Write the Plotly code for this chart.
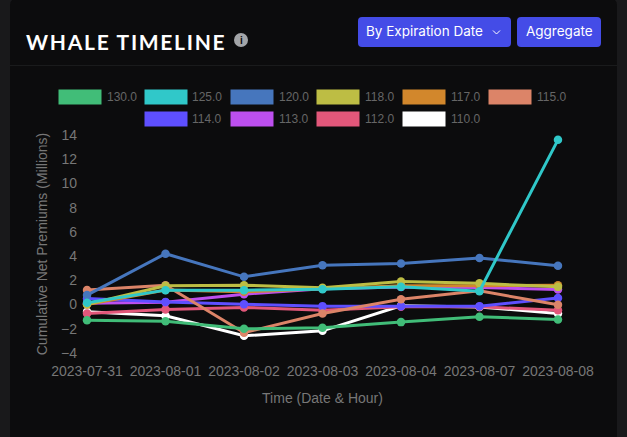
import plotly.graph_objects as go

W, H = 627, 437
dates = ["2023-07-31", "2023-08-01", "2023-08-02", "2023-08-03", "2023-08-04", "2023-08-07", "2023-08-08"]
strikes = ["130.0", "125.0", "120.0", "118.0", "117.0", "115.0", "114.0", "113.0", "112.0", "110.0"]
colors = ["#41bd78", "#30c8c9", "#4676bd", "#bdbd44", "#d2872c", "#dc8468", "#5e4fff", "#bd4fef", "#e2577a", "#ffffff"]
s130 = [-1.3, -1.37, -2.0, -1.92, -1.45, -1.01, -1.23]
s125 = [0.15, 1.19, 1.19, 1.27, 1.46, 1.1, 13.6]
s120 = [0.78, 4.2, 2.29, 3.25, 3.39, 3.85, 3.2]
s118 = [0.03, 1.55, 1.6, 1.38, 1.9, 1.75, 1.46]
s117 = [0.0, 1.2, 1.05, 1.3, 1.55, 1.55, 1.6]
s115 = [1.2, 1.6, -2.33, -0.74, 0.44, 1.13, -0.02]
s114 = [0.5, 0.22, 0.03, -0.13, -0.13, -0.13, 0.55]
s113 = [0.1, 0.2, 0.86, 1.3, 1.45, 1.4, 1.25]
s112 = [-0.73, -0.4, -0.24, -0.46, -0.19, -0.19, -0.46]
s110 = [-0.6, -0.93, -2.58, -2.17, -0.1, -0.2, -0.73]
series = [s130, s125, s120, s118, s117, s115, s114, s113, s112, s110]
y_ticks = [-4, -2, 0, 2, 4, 6, 8, 10, 12, 14]

fig = go.Figure()
for name, vals, col in reversed(list(zip(strikes, series, colors))):
    fig.add_trace(go.Scatter(x=dates, y=vals, name=name, mode="lines+markers",
                             line=dict(color=col, width=3),
                             marker=dict(color=col, size=8.5), showlegend=False))

def px(x): return x / W
def py(y): return 1 - y / H

def rrect(x0, y0, x1, y1, r, fill):
    p = (f"M {px(x0+r)} {py(y0)} L {px(x1-r)} {py(y0)} Q {px(x1)} {py(y0)} {px(x1)} {py(y0+r)} "
         f"L {px(x1)} {py(y1-r)} Q {px(x1)} {py(y1)} {px(x1-r)} {py(y1)} L {px(x0+r)} {py(y1)} "
         f"Q {px(x0)} {py(y1)} {px(x0)} {py(y1-r)} L {px(x0)} {py(y0+r)} Q {px(x0)} {py(y0)} {px(x0+r)} {py(y0)} Z")
    return dict(type="path", xref="paper", yref="paper", path=p, fillcolor=fill, line=dict(width=0), layer="below")

def text(x, y, s, size, color, family, anchor="left"):
    return dict(xref="paper", yref="paper", x=px(x), y=py(y), text=s, showarrow=False,
                xanchor=anchor, yanchor="middle", font=dict(size=size, color=color, family=family))

shapes = [rrect(10, -1, 617, 460, 6, "#0c0c0d"),
          dict(type="line", xref="paper", yref="paper", x0=px(10), x1=px(617), y0=py(65.5), y1=py(65.5),
               line=dict(color="#1a1b1c", width=1), layer="below"),
          rrect(358, 17, 511, 47, 4, "#444ce7"),
          rrect(517, 17, 601, 47, 4, "#444ce7"),
          dict(type="circle", xref="paper", yref="paper", x0=px(234), x1=px(248), y0=py(33), y1=py(47),
               fillcolor="#a3a5a8", line=dict(width=0)),
          dict(type="path", xref="paper", yref="paper",
               path=f"M {px(493)} {py(30.5)} L {px(496.5)} {py(34)} L {px(500)} {py(30.5)}",
               line=dict(color="#ffffff", width=1))]
ann = [text(36, 41, "<b>WHALE TIMELINE</b>", 21, "#ffffff", "Lato"),
       text(241, 40, "<b>i</b>", 10, "#0c0c0d", "Liberation Sans", "center"),
       text(364, 31, "By Expiration Date", 13.5, "#ffffff", "Inter"),
       text(559.5, 31, "Aggregate", 13.5, "#ffffff", "Inter", "center")]

for i, (name, col) in enumerate(zip(strikes, colors)):
    if i < 6:
        x0 = 58.5 + 86 * i
        yc = 97
    else:
        x0 = 144.5 + 86 * (i - 6)
        yc = 119
    shapes.append(dict(type="rect", xref="paper", yref="paper", x0=px(x0), x1=px(x0 + 43),
                       y0=py(yc - 7.5), y1=py(yc + 7.5), fillcolor=col, line=dict(width=0)))
    ann.append(text(x0 + 46, yc, name, 12, "#666666", "Liberation Sans"))

fig.update_layout(
    width=W, height=H, margin=dict(l=0, r=0, t=0, b=0, autoexpand=False),
    paper_bgcolor="#19191b", plot_bgcolor="rgba(0,0,0,0)",
    font=dict(family="Liberation Sans", color="#777777"), shapes=shapes, annotations=ann,
    xaxis=dict(type="category", categoryorder="array", categoryarray=dates, range=[-0.115, 6.115],
               domain=[px(78), px(567)], anchor="y", showgrid=False, zeroline=False, showline=False,
               ticks="outside", ticklen=5, tickcolor="rgba(0,0,0,0)",
               tickfont=dict(size=14, color="#777777"), tickangle=0,
               title=dict(text="Time (Date &amp; Hour)", font=dict(size=14, color="#777777"), standoff=15)),
    yaxis=dict(range=[-4, 14], domain=[py(353), py(135)], tickvals=y_ticks, anchor="x",
               showgrid=False, zeroline=False, showline=False, ticks="",
               tickfont=dict(size=14, color="#777777"),
               title=dict(text="Cumulative Net Premiums (Millions)", font=dict(size=14, color="#777777"), standoff=10)),
)
post = ("document.body.style.margin='0';document.documentElement.style.background='#19191b';"
        "document.querySelectorAll('text').forEach(function(t){"
        "if(t.textContent==='WHALE TIMELINE'){t.style.letterSpacing='1.7px';}});")
fig.write_html("out.html", config={"displayModeBar": False}, post_script=post)
